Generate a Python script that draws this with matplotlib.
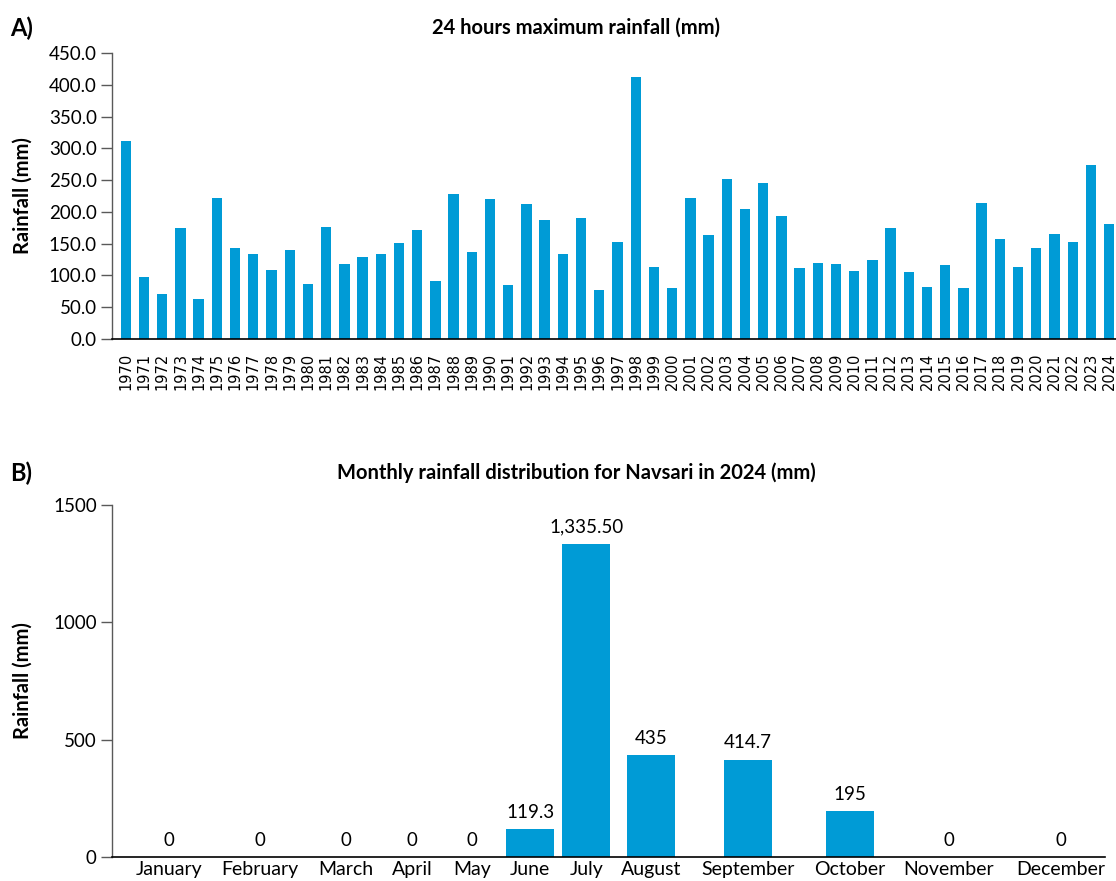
import numpy as np
import matplotlib
matplotlib.use("Agg")
import matplotlib.pyplot as plt

# ---------------------------------------------------------------------------
# Data
# ---------------------------------------------------------------------------
years = list(range(1970, 2025))
max_rain_24h = [
    311.6, 97.6, 70.8, 174.7, 63.0, 221.9, 143.2, 133.8, 108.6, 140.1,
    86.6, 176.3, 118.0, 129.0, 133.8, 151.0, 171.6, 91.3, 228.2, 136.9,
    220.4, 85.0, 212.5, 187.3, 133.8, 190.4, 77.1, 152.7, 412.4, 113.3,
    80.3, 221.9, 163.7, 251.8, 204.6, 245.5, 193.6, 111.8, 119.6, 118.0,
    107.0, 124.3, 174.7, 105.5, 81.8, 116.5, 80.3, 214.0, 157.4, 113.3,
    143.2, 165.3, 152.7, 273.9, 181.0,
]

months = ["January", "February", "March", "April", "May", "June", "July",
          "August", "September", "October", "November", "December"]
monthly_rain_2024 = [0, 0, 0, 0, 0, 119.3, 1335.5, 435, 414.7, 195, 0, 0]
monthly_labels = ["0", "0", "0", "0", "0", "119.3", "1,335.50", "435",
                  "414.7", "195", "0", "0"]

# ---------------------------------------------------------------------------
# Layout / style
# ---------------------------------------------------------------------------
BAR_BLUE = "#009BD6"
FONT = "Lato"
# uneven category slots of the original panel B (in bar-width units)
month_pos = [1.19, 3.08, 4.88, 6.25, 7.5, 8.71, 9.88, 11.23, 13.25, 15.38, 17.44, 19.77]

plt.rcParams["font.family"] = [FONT, "DejaVu Sans"]

fig = plt.figure(figsize=(11.16, 8.81), dpi=100)
W, H = 1116.0, 881.0


def style_axes(ax):
    for s in ("top", "right"):
        ax.spines[s].set_visible(False)
    ax.spines["left"].set_color("#595959")
    ax.spines["left"].set_linewidth(1.0)
    ax.spines["bottom"].set_color("#000000")
    ax.spines["bottom"].set_linewidth(1.2)
    ax.tick_params(axis="y", length=8, width=1.0, color="#595959",
                   labelsize=13.5, pad=3)
    ax.tick_params(axis="x", length=0)


# --- Panel A ---------------------------------------------------------------
axA = fig.add_axes([112 / W, 1 - 339 / H, (1115.5 - 112) / W, (339 - 53) / H])
x = np.arange(len(years))
axA.bar(x, max_rain_24h, width=0.57, color=BAR_BLUE)
axA.set_xlim(-0.76, 54.35)
axA.set_ylim(0, 450)
axA.set_yticks(np.arange(0, 451, 50))
axA.set_yticklabels([f"{v:.1f}" for v in np.arange(0, 451, 50)])
axA.set_xticks(x)
axA.set_xticklabels([str(y) for y in years], rotation=90,
                    fontfamily="DejaVu Sans", fontsize=10.5)
style_axes(axA)
axA.tick_params(axis="x", pad=10)
axA.set_ylabel("Rainfall (mm)", fontsize=14.5, fontweight="bold")
axA.yaxis.set_label_coords(-0.079, 0.5)

fig.text(576 / W, 1 - 28 / H, "24 hours maximum rainfall (mm)",
         ha="center", va="center", fontsize=14.5, fontweight="bold")
fig.text(10 / W, 1 - 28 / H, "A)", ha="left", va="center",
         fontsize=17, fontweight="bold")

# --- Panel B ---------------------------------------------------------------
axB = fig.add_axes([112 / W, 1 - 857 / H, (1105 - 112) / W, (857 - 505) / H])
axB.bar(month_pos, monthly_rain_2024, width=1.0, color=BAR_BLUE)
axB.set_xlim(0, 20.69)
axB.set_ylim(0, 1500)
axB.set_yticks([0, 500, 1000, 1500])
axB.set_xticks(month_pos)
axB.set_xticklabels(months, fontsize=14)
style_axes(axB)
axB.tick_params(axis="x", pad=3)
axB.set_ylabel("Rainfall (mm)", fontsize=14.5, fontweight="bold")
axB.yaxis.set_label_coords(-0.08, 0.5)

for xp, v, lab in zip(month_pos, monthly_rain_2024, monthly_labels):
    axB.annotate(lab, (xp, v), xytext=(0, 6), textcoords="offset points",
                 ha="center", va="bottom", fontsize=13.5)

fig.text(576 / W, 1 - 473 / H,
         "Monthly rainfall distribution for Navsari in 2024 (mm)",
         ha="center", va="center", fontsize=14.5, fontweight="bold")
fig.text(10 / W, 1 - 473 / H, "B)", ha="left", va="center",
         fontsize=17, fontweight="bold")

fig.savefig("out.png", dpi=100)
